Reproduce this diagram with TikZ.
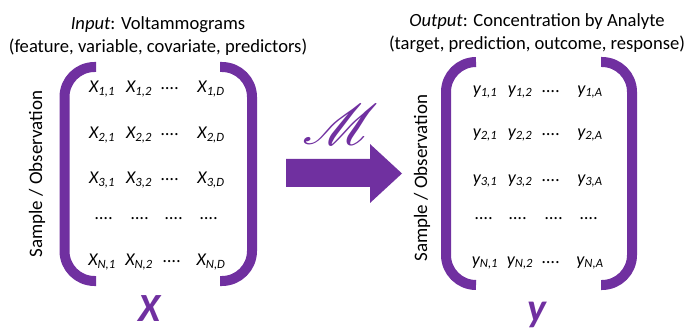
\documentclass[tikz,border=0pt]{standalone}
\usepackage{fontspec}
\setmainfont{Carlito}
\usepackage{mathrsfs}
\usepackage{graphicx}
\definecolor{officepurple}{HTML}{7030A0}
\tikzset{
  bracket/.style={draw=officepurple, line width=10pt, rounded corners=30pt, line cap=butt},
  entry/.style={font=\fontsize{18}{20}\selectfont\itshape, inner sep=0pt, anchor=center},
  header/.style={font=\fontsize{18.6}{23}\selectfont, align=center, inner sep=0pt},
  side/.style={font=\fontsize{19}{20}\selectfont, rotate=90, inner sep=0pt},
  bigletter/.style={font=\fontsize{40}{40}\selectfont\bfseries\itshape, text=officepurple, inner sep=0pt},
}
\newcommand{\ent}[2]{#1\textsubscript{#2}}
\begin{document}
\begin{tikzpicture}[x=1pt,y=-1pt]
\useasboundingbox (0,0) rectangle (688,331);
% headers
\node[header] (inhead) at (158,36) {\textit{Input}: Voltammograms\\(feature, variable, covariate, predictors)};
\node[header] (outhead) at (537,33) {\textit{Output}: Concentration by Analyte\\(target, prediction, outcome, response)};
% side labels
\node[side] (lside) at (37,174) {Sample / Observation};
\node[side] (rside) at (422,178) {Sample / Observation};
% left brackets
\draw[bracket] (96,67) -- (64.5,67) -- (64.5,281) -- (96,281);
\draw[bracket] (220,67) -- (252,67) -- (252,281) -- (220,281);
% right brackets
\draw[bracket] (476,62) -- (446,62) -- (446,285) -- (476,285);
\draw[bracket] (601,62) -- (632,62) -- (632,285) -- (601,285);
% X entries
\node[entry] (x11) at (102,89) {\ent{X}{1,1}};
\node[entry] (x12) at (139,89) {\ent{X}{1,2}};
\node[entry] (x1d) at (170,89) {....};
\node[entry] (x1D) at (211,89) {\ent{X}{1,D}};
\node[entry] (x21) at (102,135) {\ent{X}{2,1}};
\node[entry] (x22) at (139,135) {\ent{X}{2,2}};
\node[entry] (x2d) at (170,135) {....};
\node[entry] (x2D) at (211,135) {\ent{X}{2,D}};
\node[entry] (x31) at (102,180) {\ent{X}{3,1}};
\node[entry] (x32) at (139,180) {\ent{X}{3,2}};
\node[entry] (x3d) at (170,180) {....};
\node[entry] (x3D) at (211,180) {\ent{X}{3,D}};
\node[entry] (xd1) at (104,219) {....};
\node[entry] (xd2) at (140,219) {....};
\node[entry] (xd3) at (174,219) {....};
\node[entry] (xd4) at (209,219) {....};
\node[entry] (xN1) at (102,262) {\ent{X}{N,1}};
\node[entry] (xN2) at (139,262) {\ent{X}{N,2}};
\node[entry] (xNd) at (172,262) {....};
\node[entry] (xND) at (211,262) {\ent{X}{N,D}};
% y entries
\node[entry] (y11) at (485,92) {\ent{y}{1,1}};
\node[entry] (y12) at (520,92) {\ent{y}{1,2}};
\node[entry] (y1d) at (551,92) {....};
\node[entry] (y1A) at (590,92) {\ent{y}{1,A}};
\node[entry] (y21) at (485,135) {\ent{y}{2,1}};
\node[entry] (y22) at (520,135) {\ent{y}{2,2}};
\node[entry] (y2d) at (551,135) {....};
\node[entry] (y2A) at (590,135) {\ent{y}{2,A}};
\node[entry] (y31) at (485,181) {\ent{y}{3,1}};
\node[entry] (y32) at (520,181) {\ent{y}{3,2}};
\node[entry] (y3d) at (551,181) {....};
\node[entry] (y3A) at (590,181) {\ent{y}{3,A}};
\node[entry] (yd1) at (484,219) {....};
\node[entry] (yd2) at (518,219) {....};
\node[entry] (yd3) at (554,219) {....};
\node[entry] (yd4) at (589,219) {....};
\node[entry] (yN1) at (485,263) {\ent{y}{N,1}};
\node[entry] (yN2) at (520,263) {\ent{y}{N,2}};
\node[entry] (yNd) at (551,263) {....};
\node[entry] (yNA) at (590,263) {\ent{y}{N,A}};
% big letters
\node[bigletter] (bigX) at (150,309) {X};
\node[bigletter] (bigy) at (537,315) {y};
% arrow
\fill[officepurple] (286,159) -- (370,159) -- (370,144) -- (402,173.5) -- (370,203) -- (370,187) -- (286,187) -- cycle;
\node[text=officepurple, inner sep=0pt] (model) at (341,124) {\resizebox{76pt}{40pt}{$\mathscr{M}$}};
\end{tikzpicture}
\end{document}
